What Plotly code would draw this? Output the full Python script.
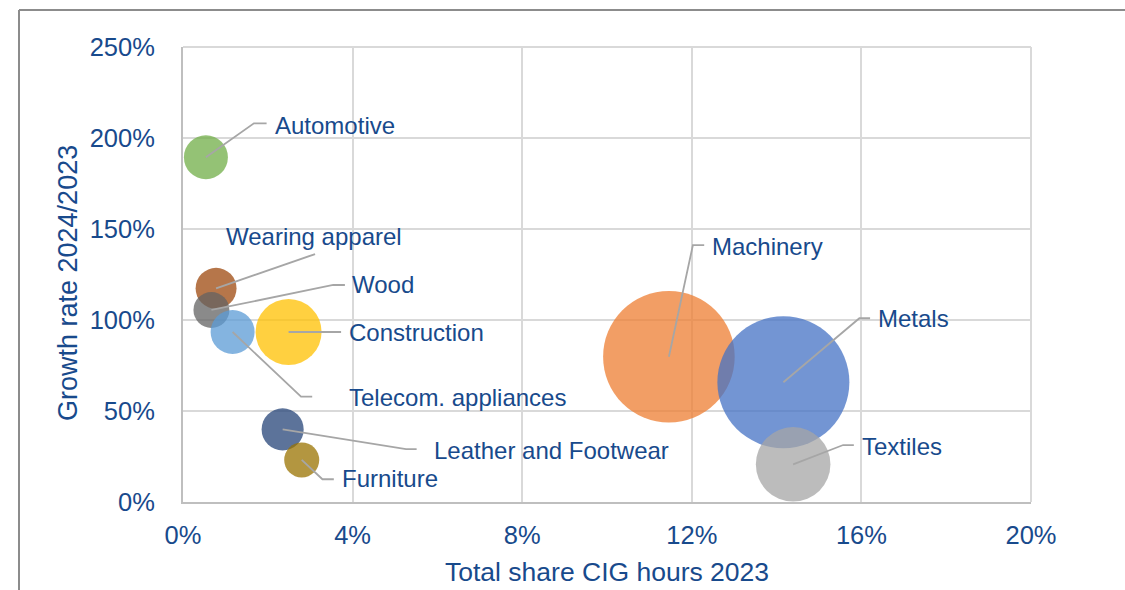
import plotly.graph_objects as go

# ---------------- data ----------------
sectors = ["Automotive", "Wearing apparel", "Wood", "Telecom. appliances", "Construction",
           "Leather and Footwear", "Furniture", "Machinery", "Metals", "Textiles"]
share_2023 = [0.54, 0.78, 0.67, 1.17, 2.49, 2.35, 2.80, 11.46, 14.16, 14.39]      # x, %
growth_rate = [189.4, 117.4, 105.5, 93.4, 93.4, 39.9, 23.1, 79.8, 65.8, 20.7]       # y, %
bubble_size = [1.50, 1.30, 1.00, 1.50, 3.38, 1.37, 0.95, 13.42, 13.5, 4.31]
x_ticks = [0, 4, 8, 12, 16, 20]
y_ticks = [0, 50, 100, 150, 200, 250]

# ---------------- styles / layout ----------------
colors = ["#70AD47", "#9E480E", "#636363", "#5B9BD5", "#FFC000",
          "#264478", "#997300", "#ED7D31", "#4472C4", "#A5A5A5"]
# label placement in pixels relative to bubble centre: (elbow, end of horizontal, label start)
label_pos = [
    ((48, -34), (60.7, -34), (70, -32)),
    ((99, -34.3), (99, -34.3), (11, -51.6)),
    ((121.8, -25), (133.5, -25), (141.5, -25)),
    ((68.4, 64.7), (79.6, 64.7), (117.6, 65)),
    ((52.5, 0), (52.5, 0), (61.5, 0)),
    ((123.4, 19.7), (134, 19.7), (152.4, 20.7)),
    ((20.7, 19.3), (32.1, 19.3), (41.1, 19)),
    ((24, -111.7), (35.3, -111.7), (44.3, -110.7)),
    ((76, -64), (86.7, -64), (95.7, -63.3)),
    ((50, -19.3), (60.7, -19.3), (70, -18.3)),
]

W, H = 1125, 590
ML, MR, MT, MB = 183, 94, 47, 88
PW, PH = W - ML - MR, H - MT - MB
XR, YR = [0, 20], [0, 250]
px_x = (XR[1] - XR[0]) / PW
px_y = (YR[1] - YR[0]) / PH

TXT = "#184A8C"
FONT = "Liberation Sans, Arial, sans-serif"
GRID = "#D9D9D9"

fig = go.Figure()
max_r = 66
fig.add_trace(go.Scatter(
    x=share_2023, y=growth_rate, mode="markers",
    marker=dict(size=bubble_size, sizemode="area",
                sizeref=max(bubble_size) / (2 * max_r ** 2),
                color=colors, opacity=0.75, line=dict(width=0)),
    hovertext=sectors, showlegend=False, cliponaxis=False,
))

shapes = []
annotations = []
for name, xv, yv, (el, en, lb) in zip(sectors, share_2023, growth_rate, label_pos):
    ex, ey = xv + el[0] * px_x, yv - el[1] * px_y
    nx, ny = xv + en[0] * px_x, yv - en[1] * px_y
    shapes.append(dict(type="path", xref="x", yref="y",
                       path=f"M {xv},{yv} L {ex},{ey} L {nx},{ny}",
                       line=dict(color="#A6A6A6", width=1.8), layer="above"))
    annotations.append(dict(x=xv + lb[0] * px_x, y=yv - lb[1] * px_y, xref="x", yref="y",
                            text=name, showarrow=False, xanchor="left", yanchor="middle",
                            xshift=-3,
                            font=dict(family=FONT, size=24, color=TXT)))

# plot-area top and right lines (grid coloured)
shapes.append(dict(type="line", xref="paper", yref="paper", x0=0, x1=1, y0=1, y1=1,
                   line=dict(color=GRID, width=2), layer="below"))
shapes.append(dict(type="line", xref="paper", yref="paper", x0=1, x1=1, y0=0, y1=1,
                   line=dict(color=GRID, width=2), layer="below"))
# outer frame (left + top)
fx0 = (19 - ML) / PW
fy1 = (H - MB - 10) / PH
shapes.append(dict(type="line", xref="paper", yref="paper", x0=fx0, x1=fx0, y0=-0.3, y1=fy1,
                   line=dict(color="#8C8C8C", width=2)))
shapes.append(dict(type="line", xref="paper", yref="paper", x0=fx0, x1=1.2, y0=fy1, y1=fy1,
                   line=dict(color="#8C8C8C", width=2)))

# axis titles
annotations.append(dict(text="Total share CIG hours 2023", xref="paper", yref="paper",
                        x=0.5, y=(H - MB - 572) / PH, showarrow=False,
                        xanchor="center", yanchor="middle",
                        font=dict(family=FONT, size=26.5, color=TXT)))
annotations.append(dict(text="Growth rate 2024/2023", xref="paper", yref="paper",
                        x=(68 - ML) / PW, y=(H - MB - 283) / PH, showarrow=False, textangle=-90,
                        xanchor="center", yanchor="middle",
                        font=dict(family=FONT, size=27, color=TXT)))

fig.update_layout(
    width=W, height=H,
    margin=dict(l=ML, r=MR, t=MT, b=MB, autoexpand=False),
    paper_bgcolor="white", plot_bgcolor="white",
    shapes=shapes, annotations=annotations,
    xaxis=dict(range=XR, tickvals=x_ticks, ticktext=[f"{v}%" for v in x_ticks],
               showgrid=True, gridcolor=GRID, gridwidth=2, zeroline=False,
               showline=True, linecolor="#BFBFBF", linewidth=2,
               ticks="outside", ticklen=9, tickcolor="rgba(0,0,0,0)",
               tickfont=dict(family=FONT, size=25.5, color=TXT), automargin=False),
    yaxis=dict(range=YR, tickvals=y_ticks, ticktext=[f"{v}%" for v in y_ticks],
               showgrid=True, gridcolor=GRID, gridwidth=2, zeroline=False,
               showline=True, linecolor="#BFBFBF", linewidth=2,
               ticks="outside", ticklen=21, tickcolor="rgba(0,0,0,0)",
               tickfont=dict(family=FONT, size=25.5, color=TXT), automargin=False),
)

fig.write_html("out.html", config={"displayModeBar": False},
               post_script="document.body.style.margin='0';document.body.style.overflow='hidden';")
